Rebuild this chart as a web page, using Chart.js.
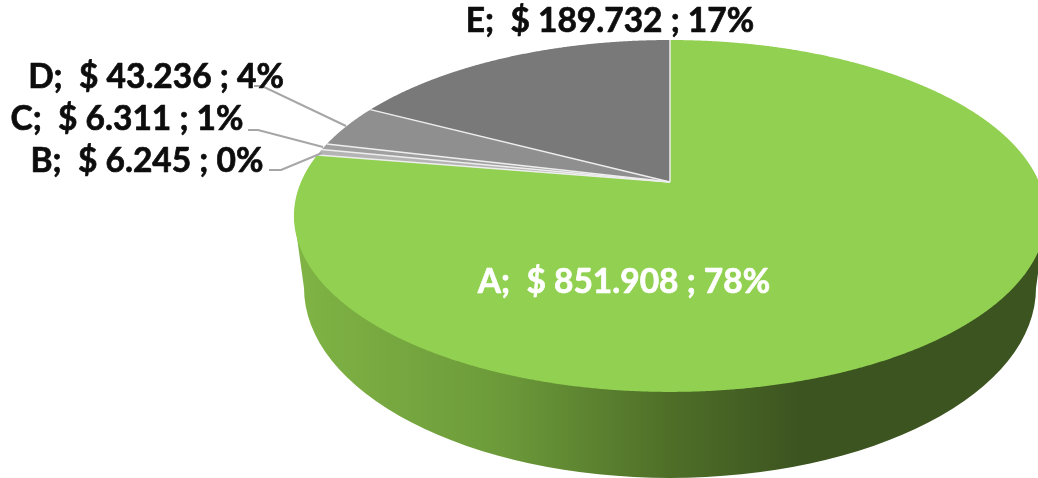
<!DOCTYPE html>
<html>
<head>
<meta charset="utf-8">
<title>Pie</title>
<style>
  html, body { margin: 0; padding: 0; background: #fff; overflow: hidden; }
  canvas { display: block; }
</style>
<script src="https://cdn.jsdelivr.net/npm/chart.js@4"></script>
</head>
<body>
<canvas id="pie" width="1038" height="478"></canvas>
<script>
const categories = ['A', 'B', 'C', 'D', 'E'];
const amounts = [851908, 6245, 6311, 43236, 189732];
const amountLabels = ['851.908', '6.245', '6.311', '43.236', '189.732'];
const percentLabels = ['78%', '0%', '1%', '4%', '17%'];
const sliceColors = ['#91d050', '#b4b4b4', '#a0a0a0', '#8f8f8f', '#797979'];

// where each label goes (center x, baseline y), same order as categories
const labelSpots = [[624, 293, '#fff'], [147, 172, '#0d0d0d'], [127, 130, '#0d0d0d'], [156, 88, '#0d0d0d'], [610, 32, '#0d0d0d']];
const leaders = [null, [[269, 170], [281, 170], [322, 153]], [[248, 130], [258, 130], [323, 147]], [[254, 86], [262, 86], [346, 126]], null];

// the pie is tilted, so the circle goes through a perspective map
const apex = { x: 670, y: 182 };
const tilt = -0.193, spanX = 369, spanY = 169.4;
function project(angle) {
    const u = Math.cos(angle), v = Math.sin(angle), w = 1 + tilt * v;
    return [apex.x + spanX * u / w, apex.y + spanY * v / w];
}

function drawSide(ctx) {
    const g = ctx.createLinearGradient(294, 0, 1040, 0);
    g.addColorStop(0, '#80b445');
    g.addColorStop(0.28, '#6c9a3a');
    g.addColorStop(0.5, '#4f6f28');
    g.addColorStop(0.68, '#3c5420');
    g.addColorStop(1, '#3c5420');
    ctx.beginPath();
    ctx.moveTo(294, 216);
    ctx.lineTo(304, 288);
    ctx.ellipse(670, 288, 366, 190, 0, Math.PI, 0, true);
    ctx.lineTo(1046, 216);
    ctx.closePath();
    ctx.fillStyle = g;
    ctx.fill();
}

const tiltedPie = {
    id: 'tiltedPie',
    beforeDatasetDraw(chart, args) {
        const ctx = chart.ctx;
        const arcs = args.meta.data;
        ctx.save();
        drawSide(ctx);
        arcs.forEach((arc, i) => {
            ctx.beginPath();
            ctx.moveTo(apex.x, apex.y);
            const steps = Math.max(2, Math.ceil((arc.endAngle - arc.startAngle) * 240));
            for (let s = 0; s <= steps; s++) {
                const p = project(arc.startAngle + (arc.endAngle - arc.startAngle) * s / steps);
                ctx.lineTo(p[0], p[1]);
            }
            ctx.closePath();
            ctx.fillStyle = sliceColors[i];
            ctx.fill();
        });
        // only the spokes get the light edge, not the rim
        ctx.strokeStyle = '#eeeeee';
        ctx.lineWidth = 1.5;
        arcs.forEach(arc => {
            const p = project(arc.startAngle);
            ctx.beginPath();
            ctx.moveTo(apex.x, apex.y);
            ctx.lineTo(p[0], p[1]);
            ctx.stroke();
        });
        ctx.restore();
        return false;
    },
    afterDraw(chart) {
        const ctx = chart.ctx;
        ctx.save();
        ctx.strokeStyle = '#a6a6a6';
        ctx.lineWidth = 2;
        leaders.forEach(line => {
            if (!line) return;
            ctx.beginPath();
            line.forEach((p, i) => i ? ctx.lineTo(p[0], p[1]) : ctx.moveTo(p[0], p[1]));
            ctx.stroke();
        });
        ctx.font = 'bold 33.5px Lato';
        ctx.textAlign = 'center';
        ctx.lineWidth = 0.7;
        ctx.lineJoin = 'round';
        categories.forEach((c, i) => {
            const text = c + ';  $ ' + amountLabels[i] + ' ; ' + percentLabels[i];
            ctx.fillStyle = labelSpots[i][2];
            ctx.strokeStyle = labelSpots[i][2];
            ctx.fillText(text, labelSpots[i][0], labelSpots[i][1]);
            ctx.strokeText(text, labelSpots[i][0], labelSpots[i][1]);
        });
        ctx.restore();
    }
};

new Chart(document.getElementById('pie'), {
    type: 'pie',
    data: {
        labels: categories,
        datasets: [{ data: amounts, backgroundColor: sliceColors }]
    },
    options: {
        responsive: false,
        animation: false,
        plugins: { legend: { display: false }, tooltip: { enabled: false } }
    },
    plugins: [tiltedPie]
});
</script>
</body>
</html>
